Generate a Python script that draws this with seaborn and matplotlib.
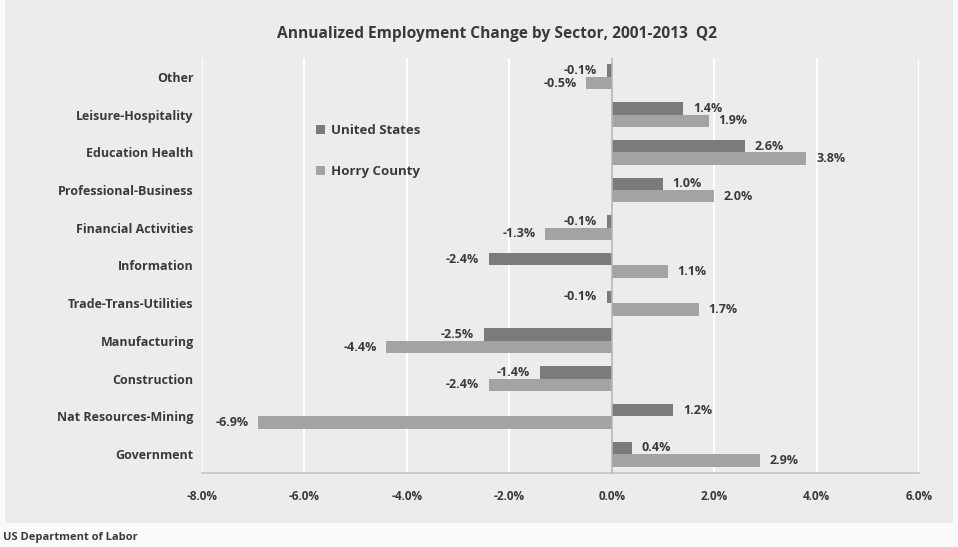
import matplotlib
matplotlib.use("Agg")
import matplotlib.pyplot as plt
import matplotlib.patches as mpatches
import seaborn as sns
import pandas as pd

sectors = [
    "Other", "Leisure-Hospitality", "Education Health", "Professional-Business",
    "Financial Activities", "Information", "Trade-Trans-Utilities", "Manufacturing",
    "Construction", "Nat Resources-Mining", "Government",
]
united_states = [-0.1, 1.4, 2.6, 1.0, -0.1, -2.4, -0.1, -2.5, -1.4, 1.2, 0.4]
horry_county = [-0.5, 1.9, 3.8, 2.0, -1.3, 1.1, 1.7, -4.4, -2.4, -6.9, 2.9]
series_names = ["United States", "Horry County"]
x_ticks = [-8, -6, -4, -2, 0, 2, 4, 6]
x_tick_labels = ["-8.0%", "-6.0%", "-4.0%", "-2.0%", "0.0%", "2.0%", "4.0%", "6.0%"]

df = pd.DataFrame({
    "Sector": sectors * 2,
    "Change": united_states + horry_county,
    "Series": [series_names[0]] * len(sectors) + [series_names[1]] * len(sectors),
})

sns.set_theme(style="whitegrid")
plt.rcParams["font.family"] = ["Open Sans", "DejaVu Sans"]

text_color = "#3a3a3a"
panel_color = "#ececec"
palette = {series_names[0]: "#7b7b7b", series_names[1]: "#a3a3a3"}

fig = plt.figure(figsize=(9.58, 5.47), dpi=100, facecolor="#fafafa")
backdrop = mpatches.Rectangle((0.005, 0.044), 0.99, 0.956, transform=fig.transFigure,
                              facecolor=panel_color, edgecolor="none", zorder=-10)
fig.add_artist(backdrop)
ax = fig.add_axes([0.2109, 0.1353, 0.7484, 0.7587])
ax.set_facecolor(panel_color)

sns.barplot(data=df, y="Sector", x="Change", hue="Series", order=sectors,
            hue_order=series_names, palette=palette, orient="h", width=0.66,
            saturation=1, edgecolor="none", linewidth=0, ax=ax)

for container in ax.containers:
    vals = [bar.get_width() for bar in container]
    ax.bar_label(container, labels=[f"{v:.1f}%" for v in vals], padding=7,
                 fontsize=9, fontweight="bold", color=text_color)

ax.axvline(0, color="#b4b4b4", lw=1.2, zorder=3)
ax.set_xlim(-8, 6)
ax.set_xticks(x_ticks)
ax.set_xticklabels(x_tick_labels, fontsize=8.5, fontweight="bold", color=text_color)
ax.tick_params(axis="x", pad=12, length=0)
ax.tick_params(axis="y", pad=6, length=0)
for lbl in ax.get_yticklabels():
    lbl.set_fontsize(9)
    lbl.set_fontweight("bold")
    lbl.set_color(text_color)
ax.set_xlabel("")
ax.set_ylabel("")
ax.grid(axis="x", color="white", lw=1.5)
ax.grid(axis="y", visible=False)
for side in ["top", "right", "left"]:
    ax.spines[side].set_visible(False)
ax.spines["bottom"].set_color("#c4c4c4")
ax.spines["bottom"].set_linewidth(1.2)

leg = ax.legend(loc="upper left", bbox_to_anchor=(0.317, 0.7945), bbox_transform=fig.transFigure,
                frameon=False, handlelength=0.7, handleheight=0.7, handletextpad=0.45,
                labelspacing=2.1, prop={"weight": "bold", "size": 9.5})
for t in leg.get_texts():
    t.set_color(text_color)

fig.text(0.519, 0.938, "Annualized Employment Change by Sector, 2001-2013  Q2",
         ha="center", va="center", fontsize=11.2, fontweight="bold", color=text_color)
fig.text(0.003, 0.018, "US Department of Labor", ha="left", va="center",
         fontsize=8, fontweight="bold", color=text_color)

fig.savefig("out.png", dpi=100, facecolor=fig.get_facecolor())
